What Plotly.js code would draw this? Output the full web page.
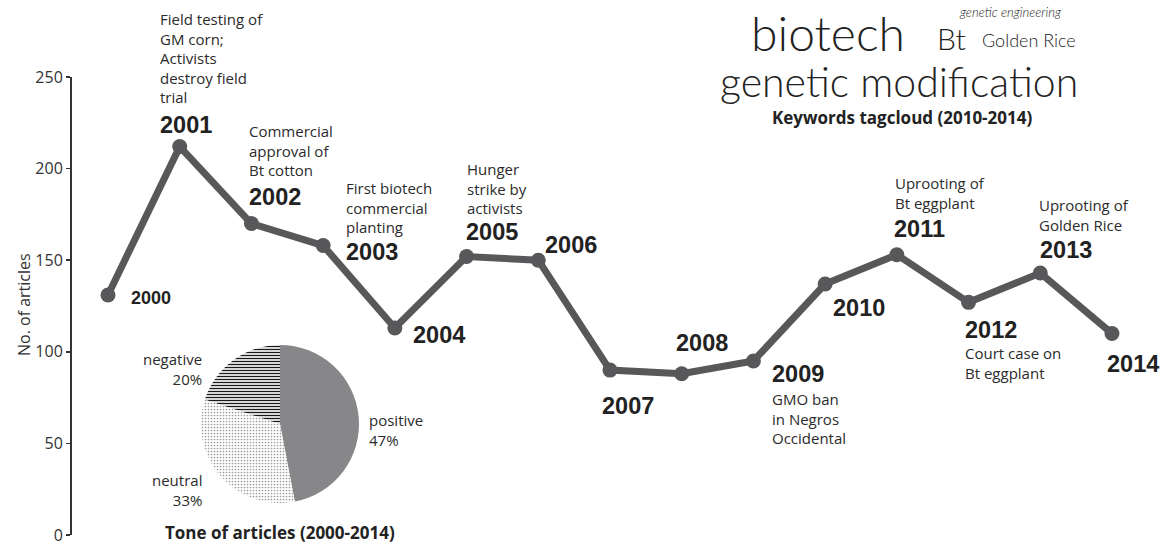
<!DOCTYPE html>
<html>
<head>
<meta charset="utf-8">
<script src="https://cdn.plot.ly/plotly-3.0.1.min.js"></script>
<style>html,body{margin:0;padding:0;background:#fff;}#chart{width:1172px;height:547px;}</style>
</head>
<body>
<div id="chart"></div>
<script>
// ---- data ----
const years = [2000, 2001, 2002, 2003, 2004, 2005, 2006, 2007, 2008, 2009, 2010, 2011, 2012, 2013, 2014];
const articles = [131, 212, 170, 158, 113, 152, 150, 90, 88, 95, 137, 153, 127, 143, 110];
const yTicks = [0, 50, 100, 150, 200, 250];
const eventYears = [2001, 2002, 2003, 2005, 2009, 2011, 2012, 2013];
const eventTexts = [
  'Field testing of<br>GM corn;<br>Activists<br>destroy field<br>trial',
  'Commercial<br>approval of<br>Bt cotton',
  'First biotech<br>commercial<br>planting',
  'Hunger<br>strike by<br>activists',
  'GMO ban<br>in Negros<br>Occidental',
  'Uprooting of<br>Bt eggplant',
  'Court case on<br>Bt eggplant',
  'Uprooting of<br>Golden Rice'
];
const toneLabels = ['positive', 'neutral', 'negative'];
const toneShares = [47, 33, 20];
const keywords = ['biotech', 'Bt', 'genetic engineering', 'Golden Rice', 'genetic modification'];
const yTitle = 'No. of articles';
const pieTitle = 'Tone of articles (2000-2014)';
const cloudTitle = 'Keywords tagcloud (2010-2014)';

// ---- layout helpers ----
const W = 1172, H = 547;
const M = {l: 72, r: 0, t: 77, b: 12};
const PW = W - M.l - M.r, PH = H - M.t - M.b;
const px = v => (v - M.l) / PW;
const py = v => (H - M.b - v) / PH;

// label offsets (pixels) relative to each data point: [dx, dy(up)]
const yearOffsets = {
  2000: [21, -3], 2001: [-22, 22], 2002: [-4, 27], 2003: [21, -6], 2004: [16, -7],
  2005: [-3, 25], 2006: [5, 15], 2007: [-10, -36], 2008: [-8, 31], 2009: [17, -13],
  2010: [6, -24], 2011: [-5, 26], 2012: [-6, -28], 2013: [-2, 23], 2014: [-7, -31]
};
const eventOffsets = {
  2001: [-22, 89], 2002: [-4, 73], 2003: [21, 38], 2005: [-2, 68],
  2009: [17, -58], 2011: [-4, 62], 2012: [-6, -61], 2013: [-3, 58]
};

const dark = '#58585a';
const txt = '#2b2b2b';
const sansFont = 'Open Sans, Noto Sans, sans-serif';
const boldNum = 'Liberation Sans, Arial, sans-serif';
const cloudFont = 'Lato, sans-serif';

const annotations = [];
years.forEach((yr, i) => {
  const o = yearOffsets[yr];
  annotations.push({
    x: yr, y: articles[i], xref: 'x', yref: 'y', text: String(yr), showarrow: false,
    xanchor: 'left', yanchor: 'middle', xshift: o[0], yshift: o[1],
    font: {family: boldNum, size: yr === 2000 ? 18 : 23.5, color: '#222', weight: 'bold'}
  });
});
eventYears.forEach((yr, i) => {
  const o = eventOffsets[yr];
  annotations.push({
    x: yr, y: articles[years.indexOf(yr)], xref: 'x', yref: 'y', text: eventTexts[i], showarrow: false,
    xanchor: 'left', yanchor: 'middle', align: 'left', xshift: o[0], yshift: o[1],
    font: {family: sansFont, size: 15, color: txt}
  });
});
// y axis title
annotations.push({x: px(24), y: py(304), xref: 'paper', yref: 'paper', text: yTitle, showarrow: false,
  textangle: -90, xanchor: 'center', yanchor: 'middle', font: {family: sansFont, size: 16, color: '#333'}});
// pie labels
const pieLabelPos = [
  {x: 367, y: 430, xanchor: 'left', align: 'left'},
  {x: 204, y: 490, xanchor: 'right', align: 'right'},
  {x: 204, y: 369, xanchor: 'right', align: 'right'}
];
toneLabels.forEach((lab, i) => {
  const p = pieLabelPos[i];
  annotations.push({x: px(p.x), y: py(p.y), xref: 'paper', yref: 'paper', showarrow: false,
    text: lab + '<br>' + toneShares[i] + '%', xanchor: p.xanchor, yanchor: 'middle', align: p.align,
    font: {family: sansFont, size: 15, color: txt}});
});
annotations.push({x: px(280), y: py(532), xref: 'paper', yref: 'paper', showarrow: false, text: pieTitle,
  xanchor: 'center', yanchor: 'middle', font: {family: sansFont, size: 17, color: '#222', weight: 'bold'}});
// keyword cloud
const cloudPos = [
  {x: 828, y: 32, size: 48, style: 'normal'},
  {x: 951, y: 38, size: 30, style: 'normal'},
  {x: 1010, y: 12, size: 13, style: 'italic'},
  {x: 1029, y: 40, size: 18, style: 'normal'},
  {x: 899, y: 82, size: 41, style: 'normal'}
];
keywords.forEach((k, i) => {
  const c = cloudPos[i];
  annotations.push({x: px(c.x), y: py(c.y), xref: 'paper', yref: 'paper', showarrow: false, text: k,
    xanchor: 'center', yanchor: 'middle',
    font: {family: cloudFont, size: c.size, color: '#222', style: c.style, weight: 300}});
});
annotations.push({x: px(902), y: py(117), xref: 'paper', yref: 'paper', showarrow: false, text: cloudTitle,
  xanchor: 'center', yanchor: 'middle', font: {family: sansFont, size: 17, color: '#222', weight: 'bold'}});

const lineTrace = {
  type: 'scatter', mode: 'lines+markers', x: years, y: articles,
  line: {color: dark, width: 7}, marker: {color: dark, size: 15},
  hoverinfo: 'x+y', cliponaxis: false
};
const pieTrace = {
  type: 'pie', labels: toneLabels, values: toneShares, sort: false, direction: 'clockwise', rotation: 0,
  textinfo: 'none', hoverinfo: 'label+percent',
  domain: {x: [px(201), px(359)], y: [py(503), py(345)]},
  marker: {
    colors: ['#87878a', '#ffffff', '#ffffff'],
    line: {width: 0},
    pattern: {
      shape: ['', '.', '-'],
      fgcolor: ['#87878a', '#9a9a9a', '#1a1a1a'],
      bgcolor: ['#87878a', '#ffffff', '#ffffff'],
      size: [4, 3, 3],
      solidity: [0.5, 0.25, 0.45]
    }
  }
};

const layout = {
  width: W, height: H, margin: M, paper_bgcolor: '#fff', plot_bgcolor: '#fff', showlegend: false,
  xaxis: {range: [1999.498, 2014.837], visible: false, fixedrange: true},
  yaxis: {
    range: [0, 250], tickvals: yTicks, ticktext: yTicks.map(String), showline: true, linecolor: '#333', linewidth: 2,
    ticks: 'outside', ticklen: 4, tickwidth: 1.5, tickcolor: '#333', showgrid: false, zeroline: false,
    ticklabeloverflow: 'allow',
    tickfont: {family: sansFont, size: 16, color: '#333'}, fixedrange: true
  },
  annotations: annotations
};
Plotly.newPlot('chart', [lineTrace, pieTrace], layout, {displayModeBar: false, staticPlot: true});
</script>
</body>
</html>
